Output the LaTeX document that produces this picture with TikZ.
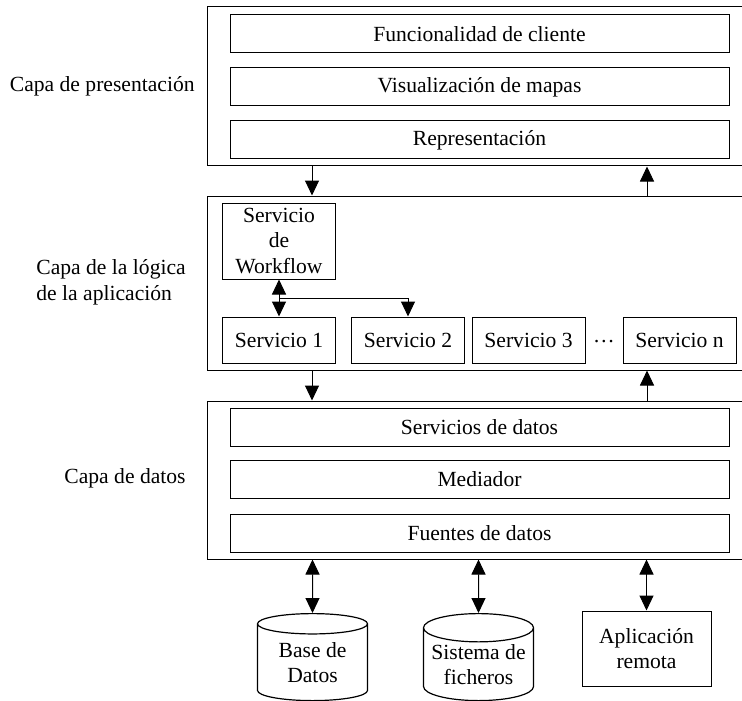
\documentclass[tikz,border=0pt]{standalone}
\usepackage{fontspec}
\setmainfont{Liberation Serif}
\usetikzlibrary{arrows.meta, shapes.geometric, calc}

\begin{document}
\begin{tikzpicture}[x=0.5pt, y=-0.5pt,
    font=\fontsize{10.8}{12.8}\selectfont,
    capa/.style={draw, line width=0.5pt, inner sep=0pt, minimum width=268pt},
    caja/.style={draw, line width=0.5pt, inner sep=0pt, minimum width=249.5pt, minimum height=19pt},
    serv/.style={draw, line width=0.5pt, inner sep=0pt, minimum width=56.5pt, minimum height=23pt, align=center},
    bd/.style={draw, line width=0.6pt, cylinder, shape border rotate=90, shape aspect=0.3, minimum width=55pt, minimum height=43.5pt, inner sep=0pt, align=center, anchor=north},
    etiqueta/.style={inner sep=0pt},
    flecha/.style={line width=0.5pt, -{Triangle[length=7.5pt, width=7pt]}},
    doble/.style={line width=0.5pt, {Triangle[length=7.5pt, width=7pt]}-{Triangle[length=7.5pt, width=7pt]}}]
    \useasboundingbox (0,0) rectangle (742,700);

    % Capa de presentacion
    \node[capa, minimum height=79.5pt] (pres) at (475,86.5) {};
    \node[caja] (cliente) at (479.5,34) {Funcionalidad de cliente};
    \node[caja] (mapas) at (479.5,87) {Visualización de mapas};
    \node[caja] (repr) at (479.5,140) {Representación};
    \node[etiqueta, anchor=east] (tpres) at (195,86) {Capa de presentación};

    % Capa de la logica de la aplicacion
    \node[capa, minimum height=87pt] (logica) at (475,283) {};
    \node[serv, minimum height=38pt] (wf) at (279,241) {Servicio\\de\\Workflow};
    \node[serv] (s1) at (279,340) {Servicio 1};
    \node[serv] (s2) at (408,340) {Servicio 2};
    \node[serv] (s3) at (528.5,340) {Servicio 3};
    \node[etiqueta] (puntos) at (604,342) {…};
    \node[serv] (sn) at (679.5,340) {Servicio n};
    \node[etiqueta, anchor=west, align=left] (tlogica) at (36,282) {Capa de la lógica\\de la aplicación};

    % Workflow hacia los servicios
    \coordinate (rama) at ($(wf.south)!0.5!(s1.north)$);
    \draw[doble] (wf.south) -- (s1.north);
    \draw[flecha] (rama) -| (s2.north);

    % Capa de datos
    \node[capa, minimum height=79pt] (datos) at (475,480) {};
    \node[caja] (sdatos) at (479.5,427) {Servicios de datos};
    \node[caja] (mediador) at (479.5,479.5) {Mediador};
    \node[caja] (fuentes) at (479.5,533) {Fuentes de datos};
    \node[etiqueta, anchor=east] (tdatos) at (186,478) {Capa de datos};

    % Flechas entre capas
    \coordinate (bajada) at (312,0);
    \coordinate (subida) at (647,0);
    \draw[flecha] (pres.south -| bajada) -- (logica.north -| bajada);
    \draw[flecha] (logica.north -| subida) -- (pres.south -| subida);
    \draw[flecha] (logica.south -| bajada) -- (datos.north -| bajada);
    \draw[flecha] (datos.north -| subida) -- (logica.south -| subida);

    % Fuentes externas
    \node[bd] (bdatos) at (312.5,613) {Base de\\Datos};
    \node[bd] (ficheros) at (478.5,613) {Sistema de\\ficheros};
    \node[serv, minimum width=64.5pt, minimum height=37.5pt] (remota) at (646.5,648.5) {Aplicación\\remota};
    \draw[doble] (datos.south -| bdatos) -- (bdatos.north);
    \draw[doble] (datos.south -| ficheros) -- (ficheros.north);
    \draw[doble] (datos.south -| remota) -- (remota.north);
\end{tikzpicture}
\end{document}
